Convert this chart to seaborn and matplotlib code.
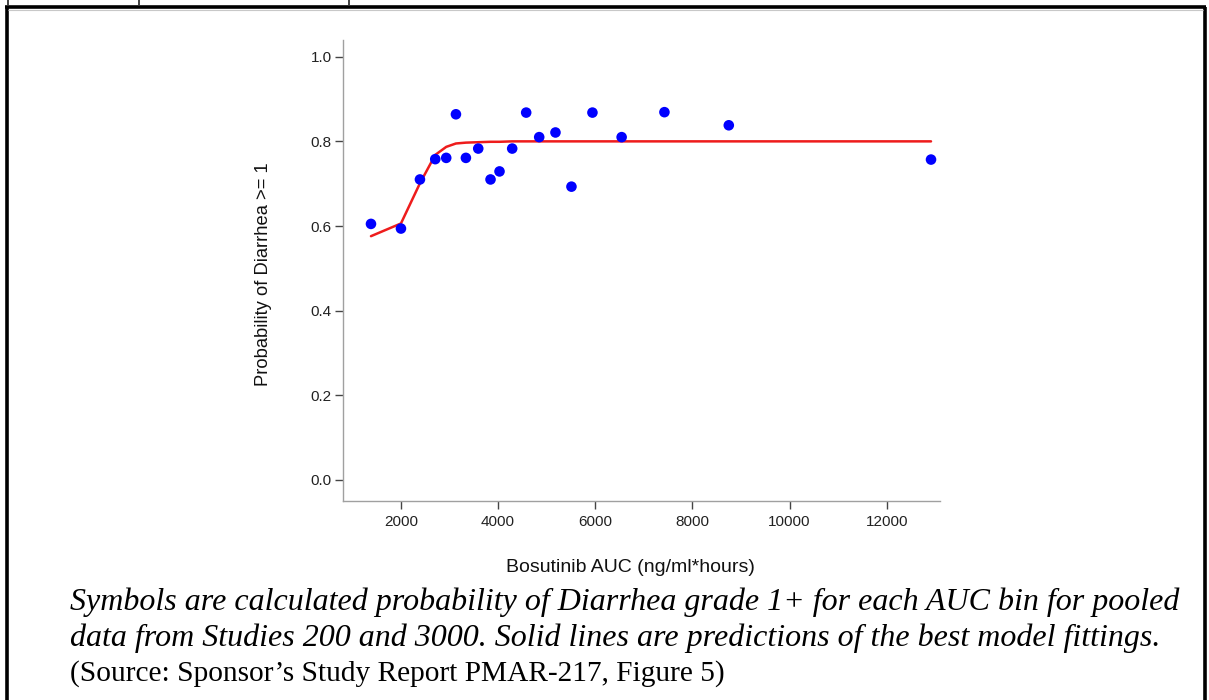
import matplotlib
matplotlib.use("Agg")
import matplotlib.pyplot as plt
import seaborn as sns
import pandas as pd
from matplotlib.lines import Line2D

# ---- data ----
auc = [1383, 2000, 2391, 2706, 2932, 3132, 3337, 3591, 3844, 4029,
       4290, 4578, 4846, 5181, 5510, 5942, 6543, 7424, 8749, 12912]
observed_prob = [0.605, 0.594, 0.710, 0.758, 0.761, 0.864, 0.761, 0.783, 0.710, 0.729,
                 0.783, 0.868, 0.810, 0.821, 0.693, 0.868, 0.810, 0.869, 0.838, 0.757]
predicted_prob = [0.576, 0.606, 0.701, 0.768, 0.787, 0.795, 0.797, 0.798, 0.799, 0.799,
                  0.800, 0.800, 0.800, 0.800, 0.800, 0.800, 0.800, 0.800, 0.800, 0.800]
x_ticks = [2000, 4000, 6000, 8000, 10000, 12000]
y_ticks = [0.0, 0.2, 0.4, 0.6, 0.8, 1.0]
x_label = "Bosutinib AUC (ng/ml*hours)"
y_label = "Probability of Diarrhea >= 1"
caption_lines = [
    "Symbols are calculated probability of Diarrhea grade 1+ for each AUC bin for pooled",
    "data from Studies 200 and 3000. Solid lines are predictions of the best model fittings.",
]
source_line = "(Source: Sponsor\u2019s Study Report PMAR-217, Figure 5)"

df = pd.DataFrame({"auc": auc, "obs": observed_prob, "pred": predicted_prob})

sns.set_style("ticks")
plt.rcParams["font.family"] = ["Liberation Sans", "DejaVu Sans"]

W, H = 1209, 700
fig = plt.figure(figsize=(W / 100, H / 100), dpi=100)

# axes placement in pixel coordinates
left, right, top, bottom = 343, 940, 40, 500.7
ax = fig.add_axes([left / W, 1 - bottom / H, (right - left) / W, (bottom - top) / H])

sns.lineplot(data=df, x="auc", y="pred", ax=ax, color="#ee1c1c", linewidth=1.8,
             sort=True, estimator=None, zorder=2)
sns.scatterplot(data=df, x="auc", y="obs", ax=ax, color="#0000ff", s=58,
                edgecolor="none", zorder=3)

ax.set_xlim(807, 13097)
ax.set_ylim(-0.049, 1.0395)
ax.set_xticks(x_ticks)
ax.set_xticklabels([str(t) for t in x_ticks])
ax.set_yticks(y_ticks)
ax.set_yticklabels([f"{t:.1f}" for t in y_ticks])

for side in ["top", "right"]:
    ax.spines[side].set_visible(False)
for side in ["left", "bottom"]:
    ax.spines[side].set_color("#a0a0a0")
    ax.spines[side].set_linewidth(1.0)
ax.tick_params(axis="both", direction="out", length=6, width=1.0, color="#444444",
               labelsize=11, labelcolor="#222222")
ax.tick_params(axis="y", pad=2)
ax.tick_params(axis="x", pad=4)
ax.grid(False)

ax.set_xlabel(x_label, fontsize=14, color="#111111")
ax.set_ylabel(y_label, fontsize=13.2, color="#111111")
ax.xaxis.set_label_coords((630 - left) / (right - left), -(568 - bottom) / (bottom - top))
ax.yaxis.set_label_coords(-(left - 263) / (right - left), (bottom - 274) / (bottom - top))
ax.xaxis.label.set_va("center")
ax.yaxis.label.set_va("center")

# caption
cap_font = ["Liberation Serif", "DejaVu Serif"]
fig.text(70 / W, 1 - 602 / H, caption_lines[0], fontsize=23, style="italic",
         family=cap_font, va="center", ha="left", color="black")
fig.text(70 / W, 1 - 638 / H, caption_lines[1], fontsize=23, style="italic",
         family=cap_font, va="center", ha="left", color="black")
fig.text(70 / W, 1 - 674 / H, source_line, fontsize=21.2,
         family=cap_font, va="center", ha="left", color="black")

# outer frame of the document box
def px_line(xs, ys, lw, color="black"):
    fig.add_artist(Line2D([x / W for x in xs], [1 - y / H for y in ys],
                          transform=fig.transFigure, color=color, linewidth=lw,
                          solid_capstyle="butt"))

px_line([6.5, 6.5], [7, 702], 2.6)
px_line([1204.8, 1204.8], [7, 702], 2.6)
px_line([5.2, 1206.1], [7, 7], 2.6)
px_line([8, 1203], [9.6, 9.6], 0.8, color="#c8c8c8")
for tx in [8, 139, 349]:
    px_line([tx, tx], [0, 6], 1.3, color="#333333")

fig.savefig("out.png", dpi=100)
